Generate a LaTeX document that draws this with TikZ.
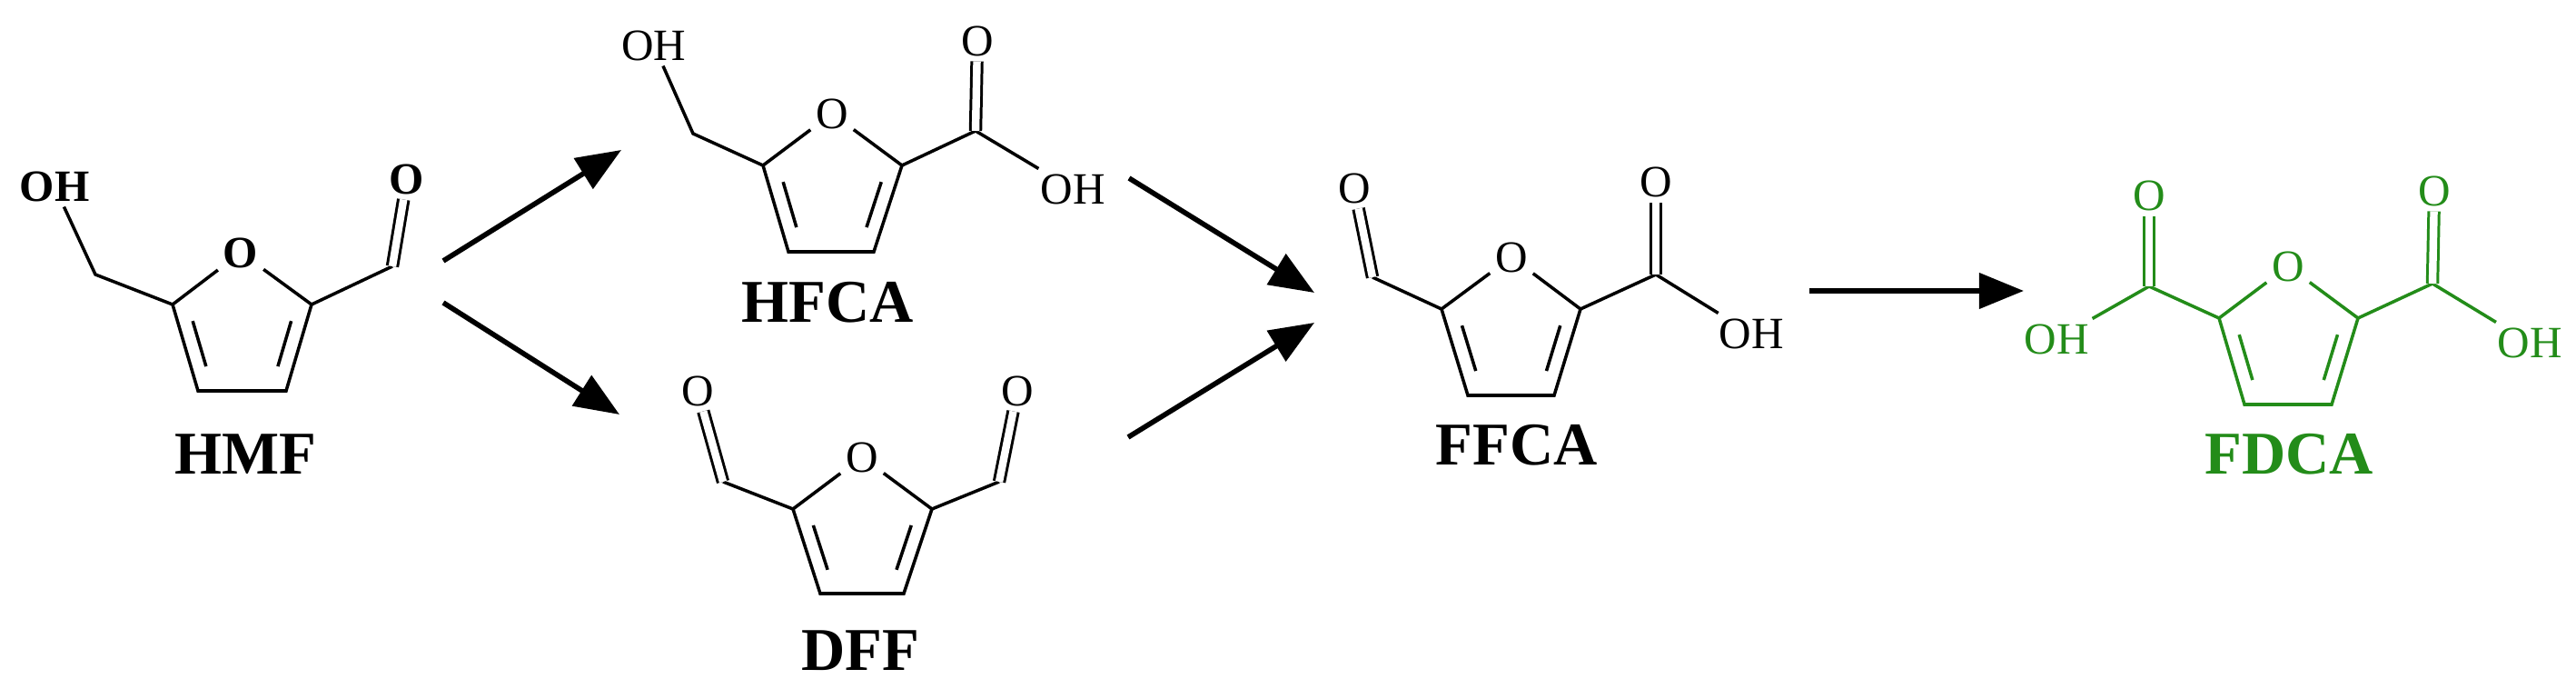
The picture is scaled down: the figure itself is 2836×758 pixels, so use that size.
\documentclass[tikz,border=0pt]{standalone}
\usepackage{fontspec}
\setmainfont{Liberation Serif}
\usetikzlibrary{calc,arrows.meta}
\definecolor{fgreen}{RGB}{35,140,25}
\tikzset{
  atom/.style={inner sep=1.5pt,font=\fontsize{14}{14}\selectfont},
  batom/.style={atom,font=\fontsize{14}{14}\selectfont\bfseries},
  cpd/.style={font=\fontsize{19}{19}\selectfont\bfseries},
  bond/.style={line width=1pt},
  dbl/.style={double,double distance=2.4pt,line width=0.85pt},
  rxn/.style={line width=1.6pt,-{Triangle[length=14pt,width=11pt]}}
}
\newcommand\innerbond[3]{\draw[bond] ($($(#1)!0.15!(#2)$)!0.25!(#3)$) -- ($($(#1)!0.85!(#2)$)!0.25!(#3)$);}
\begin{document}
\begin{tikzpicture}[x=0.01cm,y=-0.01cm]
\useasboundingbox (0,0) rectangle (2836,758);
% ---------- HMF
\node[batom] (hmfOH) at (60,205) {OH};
\coordinate (hmfCH) at (105,302);
\coordinate (hmfC2) at (190,335);
\node[batom] (hmfO) at (265,278) {O};
\coordinate (hmfC5) at (343,335);
\coordinate (hmfC4) at (315,430);
\coordinate (hmfC3) at (218,430);
\coordinate (hmfCc) at (432,293);
\node[batom] (hmfOa) at (448,197) {O};
\coordinate (hmfM) at (266,365);
\draw[bond] (hmfOH) -- (hmfCH) -- (hmfC2) -- (hmfO) -- (hmfC5) -- (hmfC4) -- (hmfC3) -- (hmfC2);
\draw[bond] (hmfC5) -- (hmfCc);
\draw[dbl] (hmfCc) -- (hmfOa);
\innerbond{hmfC2}{hmfC3}{hmfM}
\innerbond{hmfC5}{hmfC4}{hmfM}
\node[cpd] (hmf) at (270,500) {HMF};
% ---------- HFCA
\node[atom] (hfOH) at (720,50) {OH};
\coordinate (hfCH) at (763,147);
\coordinate (hfC2) at (840,182);
\node[atom] (hfO) at (916,125) {O};
\coordinate (hfC5) at (993,182);
\coordinate (hfC4) at (962,277);
\coordinate (hfC3) at (868,277);
\coordinate (hfCc) at (1074,144);
\node[atom] (hfOa) at (1076,45) {O};
\node[atom] (hfOH2) at (1181,208) {OH};
\coordinate (hfM) at (916,212);
\draw[bond] (hfOH) -- (hfCH) -- (hfC2) -- (hfO) -- (hfC5) -- (hfC4) -- (hfC3) -- (hfC2);
\draw[bond] (hfC5) -- (hfCc) -- (hfOH2);
\draw[dbl] (hfCc) -- (hfOa);
\innerbond{hfC2}{hfC3}{hfM}
\innerbond{hfC5}{hfC4}{hfM}
\node[cpd] (hfca) at (911,333) {HFCA};
% ---------- DFF
\node[atom] (dfOl) at (768,430) {O};
\coordinate (dfCl) at (796,530);
\coordinate (dfC2) at (873,560);
\node[atom] (dfO) at (949,503) {O};
\coordinate (dfC5) at (1026,560);
\coordinate (dfC4) at (995,653);
\coordinate (dfC3) at (903,653);
\coordinate (dfCr) at (1100,530);
\node[atom] (dfOr) at (1120,430) {O};
\coordinate (dfM) at (949,590);
\draw[bond] (dfCl) -- (dfC2) -- (dfO) -- (dfC5) -- (dfC4) -- (dfC3) -- (dfC2);
\draw[bond] (dfC5) -- (dfCr);
\draw[dbl] (dfCl) -- (dfOl);
\draw[dbl] (dfCr) -- (dfOr);
\innerbond{dfC2}{dfC3}{dfM}
\innerbond{dfC5}{dfC4}{dfM}
\node[cpd] (dff) at (947,716) {DFF};
% ---------- FFCA
\node[atom] (ffOl) at (1491,207) {O};
\coordinate (ffCl) at (1511,305);
\coordinate (ffC2) at (1587,340);
\node[atom] (ffO) at (1664,283) {O};
\coordinate (ffC5) at (1740,340);
\coordinate (ffC4) at (1711,435);
\coordinate (ffC3) at (1616,435);
\coordinate (ffCc) at (1823,302);
\node[atom] (ffOa) at (1823,200) {O};
\node[atom] (ffOH) at (1928,367) {OH};
\coordinate (ffM) at (1664,370);
\draw[bond] (ffCl) -- (ffC2) -- (ffO) -- (ffC5) -- (ffC4) -- (ffC3) -- (ffC2);
\draw[bond] (ffC5) -- (ffCc) -- (ffOH);
\draw[dbl] (ffCl) -- (ffOl);
\draw[dbl] (ffCc) -- (ffOa);
\innerbond{ffC2}{ffC3}{ffM}
\innerbond{ffC5}{ffC4}{ffM}
\node[cpd] (ffca) at (1670,490) {FFCA};
% ---------- FDCA
\begin{scope}[fgreen,every node/.append style={text=fgreen}]
\node[atom] (fdOl) at (2264,373) {OH};
\coordinate (fdCl) at (2366,315);
\node[atom] (fdOal) at (2366,215) {O};
\coordinate (fdC2) at (2443,350);
\node[atom] (fdO) at (2519,293) {O};
\coordinate (fdC5) at (2596,350);
\coordinate (fdC4) at (2567,445);
\coordinate (fdC3) at (2471,445);
\coordinate (fdCr) at (2678,312);
\node[atom] (fdOar) at (2680,210) {O};
\node[atom] (fdOr) at (2785,377) {OH};
\coordinate (fdM) at (2519,380);
\draw[bond] (fdOl) -- (fdCl) -- (fdC2) -- (fdO) -- (fdC5) -- (fdC4) -- (fdC3) -- (fdC2);
\draw[bond] (fdC5) -- (fdCr) -- (fdOr);
\draw[dbl,fgreen] (fdCl) -- (fdOal);
\draw[dbl,fgreen] (fdCr) -- (fdOar);
\innerbond{fdC2}{fdC3}{fdM}
\innerbond{fdC5}{fdC4}{fdM}
\node[cpd] (fdca) at (2520,500) {FDCA};
\end{scope}
% ---------- arrows
\coordinate (a1s) at (488,287); \coordinate (a1e) at (684,165);
\coordinate (a2s) at (488,333); \coordinate (a2e) at (682,456);
\coordinate (a3s) at (1243,196); \coordinate (a3e) at (1447,322);
\coordinate (a4s) at (1242,481); \coordinate (a4e) at (1447,355);
\coordinate (a5s) at (1992,320); \coordinate (a5e) at (2228,320);
\draw[rxn] (a1s) -- (a1e);
\draw[rxn] (a2s) -- (a2e);
\draw[rxn] (a3s) -- (a3e);
\draw[rxn] (a4s) -- (a4e);
\draw[rxn] (a5s) -- (a5e);
\end{tikzpicture}
\end{document}
